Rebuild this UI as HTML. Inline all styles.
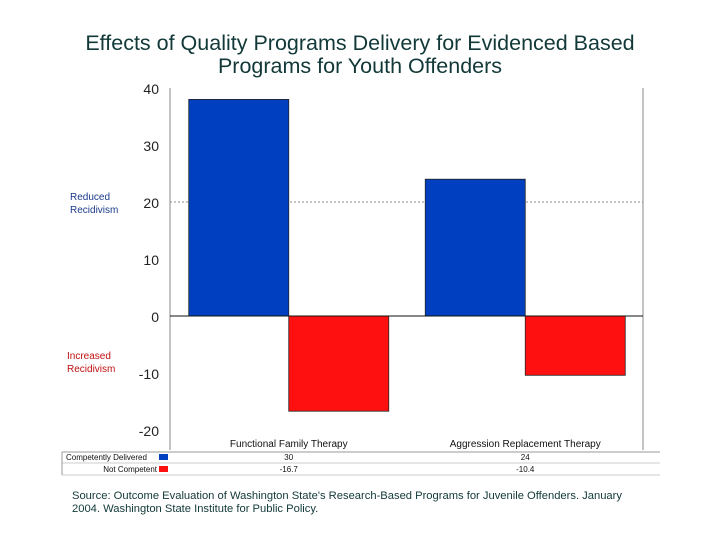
<!DOCTYPE html>
<html><head><meta charset="utf-8"><style>
body{margin:0;background:#fff;}
svg text{font-family:"Liberation Sans",sans-serif;}
</style></head><body>
<svg id="c" width="720" height="540" xmlns="http://www.w3.org/2000/svg">
<text x="360" y="50" text-anchor="middle" font-size="21.5" fill="#123838">Effects of Quality Programs Delivery for Evidenced Based</text>
<text x="360" y="73" text-anchor="middle" font-size="21.5" fill="#123838">Programs for Youth Offenders</text>
<text x="70" y="200" font-size="10" fill="#1a3a8a">Reduced</text>
<text x="70" y="213" font-size="10" fill="#1a3a8a">Recidivism</text>
<text x="67" y="359" font-size="10" fill="#c01010">Increased</text>
<text x="67" y="372" font-size="10" fill="#c01010">Recidivism</text>
<g id="plot"></g>
<text x="72" y="499" font-size="11.2" fill="#123838">Source: Outcome Evaluation of Washington State's Research-Based Programs for Juvenile Offenders. January</text>
<text x="72" y="512" font-size="11.2" fill="#123838">2004. Washington State Institute for Public Policy.</text>
</svg>
<script>
const categories = ["Functional Family Therapy", "Aggression Replacement Therapy"];
const competentValues = [38, 24];
const notCompetentValues = [-16.7, -10.4];
const competentLabels = ["30", "24"];
const notCompetentLabels = ["-16.7", "-10.4"];
const yTicks = [40, 30, 20, 10, 0, -10, -20];

const NS = "http://www.w3.org/2000/svg";
const g = document.getElementById("plot");
const L = 170, R = 643, T = 88, B = 430;
const yMin = -20, yMax = 40;
function y(v){ return B - (v - yMin) / (yMax - yMin) * (B - T); }
const groupW = (R - L) / categories.length;
function xc(i){ return L + groupW * (i + 0.5) + 0.5; }
function mk(tag, attrs, name, text){
  const e = document.createElementNS(NS, tag);
  for (const k in attrs) e.setAttribute(k, attrs[k]);
  
  
  if (text !== undefined) e.textContent = text;
  g.appendChild(e); return e;
}
mk('line', {x1:L, x2:R, y1:y(20), y2:y(20), stroke:'#888', 'stroke-dasharray':'2,2'}, 'gridline-20');
mk('line', {x1:L, x2:L, y1:T, y2:B+20, stroke:'#888'}, 'y-axis');
mk('line', {x1:R, x2:R, y1:T, y2:B+20, stroke:'#888'}, 'right-border');
yTicks.forEach(t => {
  mk('text', {x:159, y:y(t)+6, 'text-anchor':'end', 'font-size':14, fill:'#222'}, 'y-tick-label', String(t));
});
const bw = 100;
categories.forEach((c, i) => {
  const x = xc(i);
  const v1 = competentValues[i], v2 = notCompetentValues[i];
  mk('rect', {x:x-bw, y:Math.min(y(v1), y(0)), width:bw, height:Math.abs(y(v1)-y(0)), fill:'#0040c0', stroke:'#222', 'stroke-width':0.8}, 'bar-competent');
  mk('rect', {x:x, y:Math.min(y(v2), y(0)), width:bw, height:Math.abs(y(v2)-y(0)), fill:'#ff1010', stroke:'#222', 'stroke-width':0.8}, 'bar-not-competent');
  mk('text', {x:x, y:447, 'text-anchor':'middle', 'font-size':10, fill:'#111'}, 'category-label', c);
  mk('text', {x:x, y:460, 'text-anchor':'middle', 'font-size':8, fill:'#111'}, 'table-value-competent', competentLabels[i]);
  mk('text', {x:x, y:472, 'text-anchor':'middle', 'font-size':8, fill:'#111'}, 'table-value-not-competent', notCompetentLabels[i]);
});
mk('line', {x1:L, x2:R, y1:y(0), y2:y(0), stroke:'#111'}, 'zero-line');
mk('line', {x1:62, x2:660, y1:452, y2:452, stroke:'#999'}, 'table-top-line');
mk('line', {x1:62, x2:660, y1:463, y2:463, stroke:'#ccc'}, 'table-row-line');
mk('line', {x1:62, x2:660, y1:475, y2:475, stroke:'#ccc'}, 'table-bottom-line');
mk('line', {x1:62, x2:62, y1:452, y2:475, stroke:'#999'}, 'table-left-line');
mk('text', {x:66, y:460, 'font-size':8, fill:'#111'}, 'legend-competent-label', 'Competently Delivered');
mk('rect', {x:159, y:454, width:9, height:6, fill:'#0040c0'}, 'legend-competent-swatch');
mk('text', {x:157, y:472, 'text-anchor':'end', 'font-size':8, fill:'#111'}, 'legend-not-competent-label', 'Not Competent');
mk('rect', {x:159, y:466, width:9, height:6, fill:'#ff1010'}, 'legend-not-competent-swatch');
</script>
</body></html>
